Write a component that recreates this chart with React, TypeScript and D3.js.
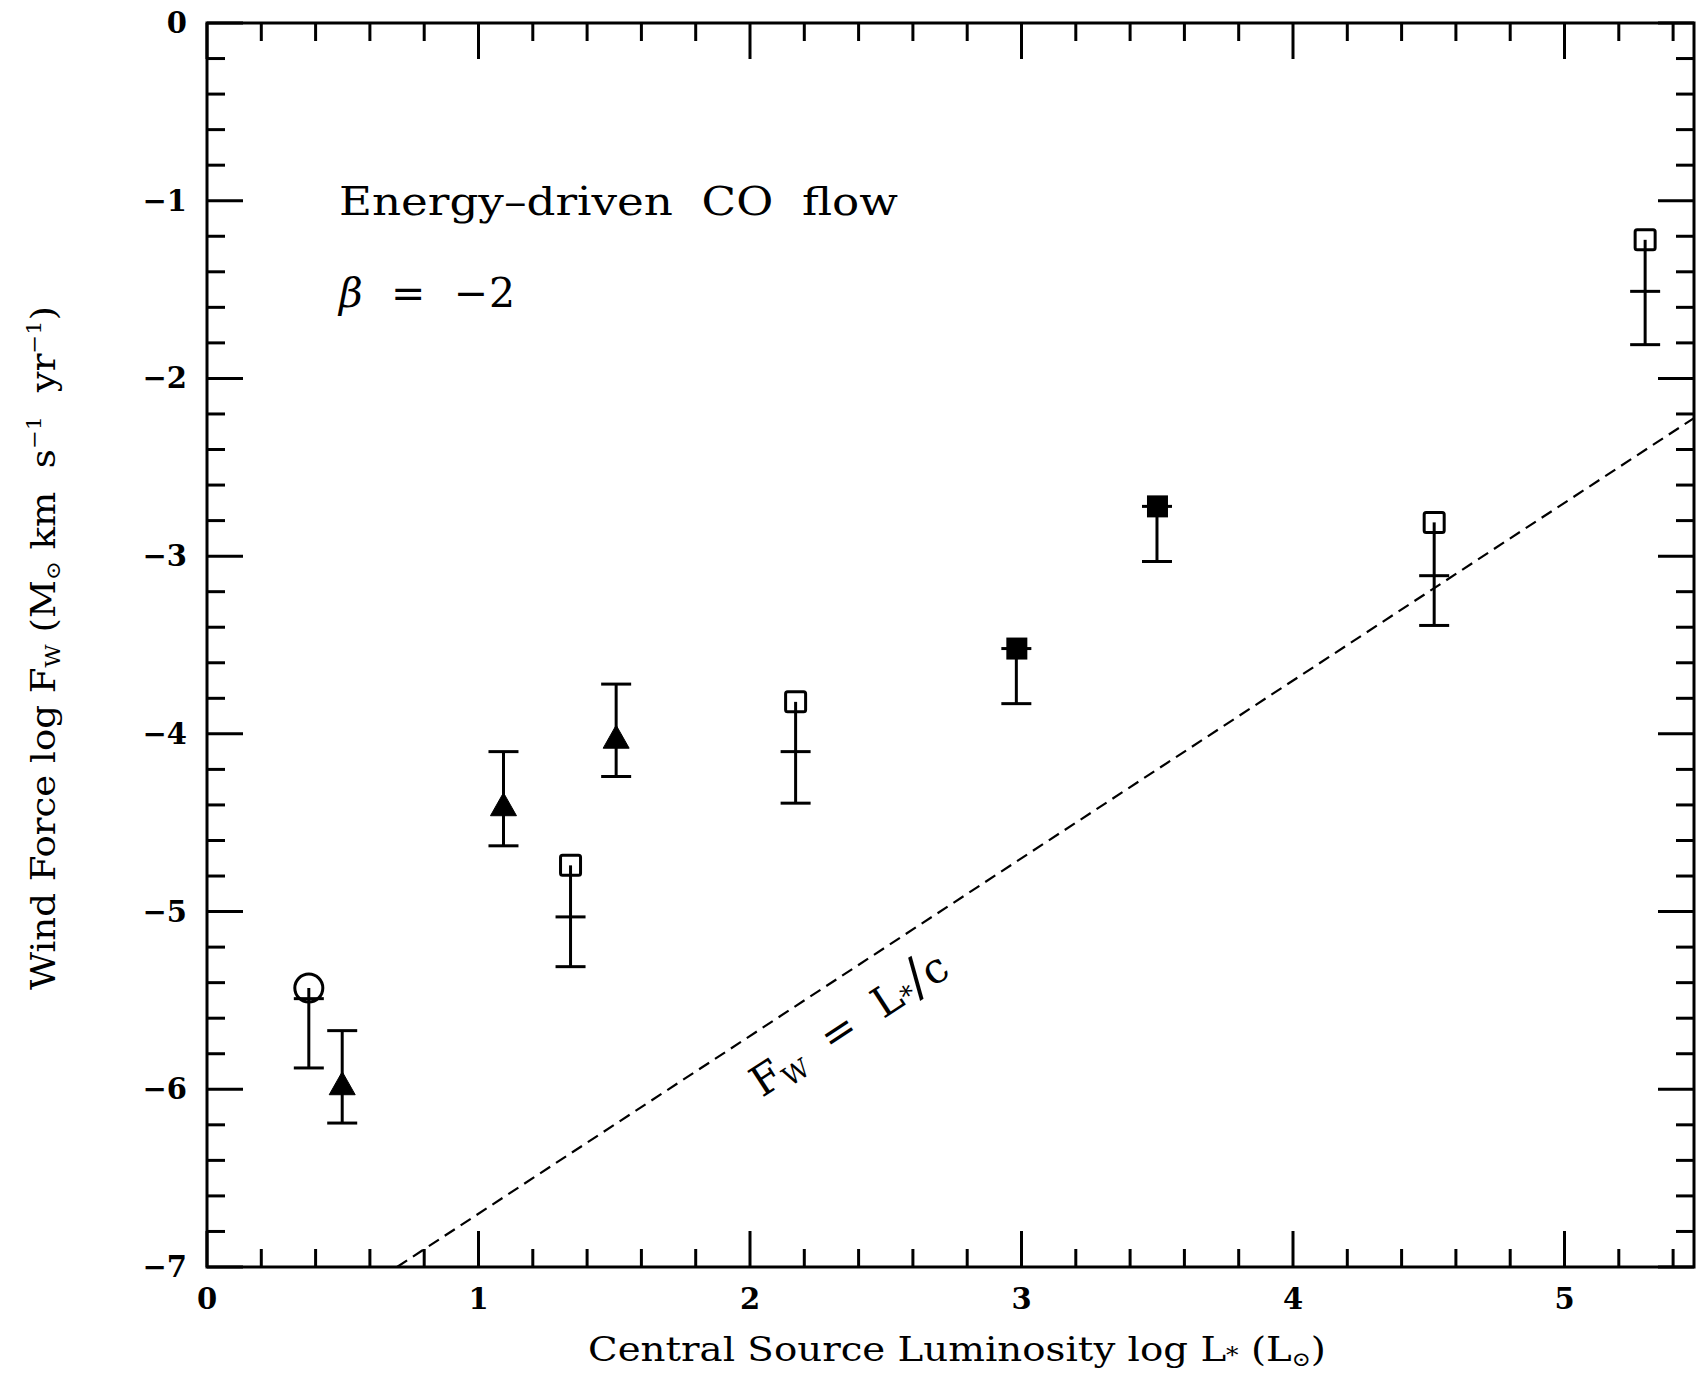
import React from "react";
import * as d3 from "d3";

// ---- data ----
const pointX = [0.375, 0.498, 1.092, 1.339, 1.507, 2.168, 2.981, 3.499, 4.52, 5.297];
const markerY = [-5.43, -5.98, -4.41, -4.74, -4.03, -3.82, -3.52, -2.72, -2.81, -1.22];
const midY = [-5.49, null, null, -5.03, null, -4.1, -3.52, -2.72, -3.11, -1.51];
const barTopY = [null, -5.67, -4.1, null, -3.72, null, null, null, null, null];
const barBottomY = [-5.88, -6.19, -4.63, -5.31, -4.24, -4.39, -3.83, -3.03, -3.39, -1.81];
const markerShape = ["circle", "triangle", "triangle", "openSquare", "triangle", "openSquare", "filledSquare", "filledSquare", "openSquare", "openSquare"];

const xTickLabels = [0, 1, 2, 3, 4, 5];
const yTickLabels = [0, -1, -2, -3, -4, -5, -6, -7];
const lineOffset = -7.7; // log Fw = log L + offset (Fw = L over c)

const W = 1697;
const H = 1375;
const LEFT = 207;
const RIGHT = 1694;
const TOP = 23;
const BOTTOM = 1267;
const xMax = (RIGHT - LEFT) / 271.5;

const font = "'DejaVu Serif', 'Liberation Serif', serif";

export default function App() {
  const x = d3.scaleLinear().domain([0, xMax]).range([LEFT, RIGHT]);
  const y = d3.scaleLinear().domain([0, -7]).range([TOP, BOTTOM]);

  const xMinor = d3.range(0, Math.floor(xMax * 5) + 1).map((i) => i / 5);
  const yMinor = d3.range(0, 36).map((i) => -i / 5);
  const isMajor = (v: number) => Math.abs(v - Math.round(v)) < 1e-6;

  const majorLen = 36;
  const minorLen = 18;
  const sw = 3;

  const lineX0 = -7 - lineOffset;
  const lineX1 = xMax;
  const linePath = d3.line<[number, number]>()
    .x((d) => x(d[0]))
    .y((d) => y(d[1]))([
      [lineX0, lineX0 + lineOffset],
      [lineX1, lineX1 + lineOffset],
    ]);

  const cap = 15;

  return (
    <svg
      width={W}
      height={H}
      style={{ position: "absolute", left: 0, top: 0, background: "#fff" }}
      fontFamily={font}
    >
      <rect x={0} y={0} width={W} height={H} fill="#fff" />
      {/* frame */}
      <rect x={LEFT} y={TOP} width={RIGHT - LEFT} height={BOTTOM - TOP} fill="none" stroke="#000" strokeWidth={sw} />

      {/* x ticks bottom and top */}
      {xMinor.map((v, i) => {
        const len = isMajor(v) ? majorLen : minorLen;
        return (
          <g key={"xt" + i}>
            <line x1={x(v)} x2={x(v)} y1={BOTTOM} y2={BOTTOM - len} stroke="#000" strokeWidth={sw} />
            <line x1={x(v)} x2={x(v)} y1={TOP} y2={TOP + len} stroke="#000" strokeWidth={sw} />
          </g>
        );
      })}
      {/* y ticks left and right */}
      {yMinor.map((v, i) => {
        const len = isMajor(v) ? majorLen : minorLen;
        return (
          <g key={"yt" + i}>
            <line x1={LEFT} x2={LEFT + len} y1={y(v)} y2={y(v)} stroke="#000" strokeWidth={sw} />
            <line x1={RIGHT} x2={RIGHT - len} y1={y(v)} y2={y(v)} stroke="#000" strokeWidth={sw} />
          </g>
        );
      })}

      {/* tick labels */}
      {xTickLabels.map((v) => (
        <text key={"xl" + v} x={x(v)} y={1309} textAnchor="middle" fontSize={29} fontWeight="bold">
          {v}
        </text>
      ))}
      {yTickLabels.map((v) => (
        <text key={"yl" + v} x={187} y={y(v) + 10} textAnchor="end" fontSize={29} fontWeight="bold">
          {v === 0 ? "0" : "\u2212" + Math.abs(v)}
        </text>
      ))}

      {/* dashed line: Fw equals L over c */}
      <path d={linePath || ""} fill="none" stroke="#000" strokeWidth={2.2} strokeDasharray="12,7" />

      {/* error bars and markers */}
      {pointX.map((px, i) => {
        const cx = x(px);
        const my = y(markerY[i]);
        const top = barTopY[i] != null ? y(barTopY[i] as number) : my;
        const bot = y(barBottomY[i]);
        const shape = markerShape[i];
        const mid = midY[i];
        return (
          <g key={"p" + i}>
            <line x1={cx} x2={cx} y1={top} y2={bot} stroke="#000" strokeWidth={3} />
            <line x1={cx - cap} x2={cx + cap} y1={bot} y2={bot} stroke="#000" strokeWidth={3} />
            {barTopY[i] != null && (
              <line x1={cx - cap} x2={cx + cap} y1={top} y2={top} stroke="#000" strokeWidth={3} />
            )}
            {mid != null && (
              <line x1={cx - cap} x2={cx + cap} y1={y(mid)} y2={y(mid)} stroke="#000" strokeWidth={3} />
            )}
            {shape === "circle" && (
              <circle cx={cx} cy={my} r={14} fill="none" stroke="#000" strokeWidth={3} />
            )}
            {shape === "triangle" && (
              <path
                d={`M${cx},${my - 14} L${cx + 13},${my + 9} L${cx - 13},${my + 9} Z`}
                fill="#000"
                stroke="#000"
                strokeWidth={1}
              />
            )}
            {shape === "openSquare" && (
              <rect x={cx - 10} y={my - 10} width={20} height={20} rx={2} fill="none" stroke="#000" strokeWidth={3} />
            )}
            {shape === "filledSquare" && (
              <rect x={cx - 10} y={my - 11} width={21} height={22} fill="#000" />
            )}
          </g>
        );
      })}

      {/* annotations */}
      <text x={339} y={215} fontSize={40} textLength={559} lengthAdjust="spacingAndGlyphs" style={{ whiteSpace: "pre" }}>
        {"Energy\u2013driven  CO  flow"}
      </text>
      <text x={339} y={307} fontSize={41} textLength={176} lengthAdjust="spacing" style={{ whiteSpace: "pre" }}>
        <tspan fontStyle="italic">{"\u03B2"}</tspan>
        {"  =  \u22122"}
      </text>

      <text
        transform="translate(762,1098) rotate(-33)"
        fontSize={42}
        style={{ whiteSpace: "pre" }}
      >
        {"F"}
        <tspan fontSize={26} dy={6}>W</tspan>
        <tspan dy={-6}>{"  =  L"}</tspan>
        <tspan fontSize={26} dy={2}>*</tspan>
        <tspan dy={-2} fontSize={52}>{"/"}</tspan>
        <tspan>c</tspan>
      </text>

      {/* x axis title */}
      <text x={588} y={1361} fontSize={34} textLength={738} lengthAdjust="spacingAndGlyphs" style={{ whiteSpace: "pre" }}>
        {"Central Source Luminosity log L"}
        <tspan fontSize={22} dy={2}>*</tspan>
        <tspan dy={-2}>{" (L"}</tspan>
        <tspan fontSize={20} dy={5}>{"\u2299"}</tspan>
        <tspan dy={-5}>{")"}</tspan>
      </text>

      {/* y axis title */}
      <text
        transform="translate(55,990) rotate(-90)"
        fontSize={33}
        textLength={684}
        lengthAdjust="spacingAndGlyphs"
        style={{ whiteSpace: "pre" }}
      >
        {"Wind Force log F"}
        <tspan fontSize={20} dy={5}>W</tspan>
        <tspan dy={-5}>{" (M"}</tspan>
        <tspan fontSize={20} dy={5}>{"\u2299"}</tspan>
        <tspan dy={-5}>{" km  s"}</tspan>
        <tspan fontSize={20} dy={-14}>{"\u22121"}</tspan>
        <tspan dy={14}>{"  yr"}</tspan>
        <tspan fontSize={20} dy={-14}>{"\u22121"}</tspan>
        <tspan dy={14}>{")"}</tspan>
      </text>
    </svg>
  );
}
